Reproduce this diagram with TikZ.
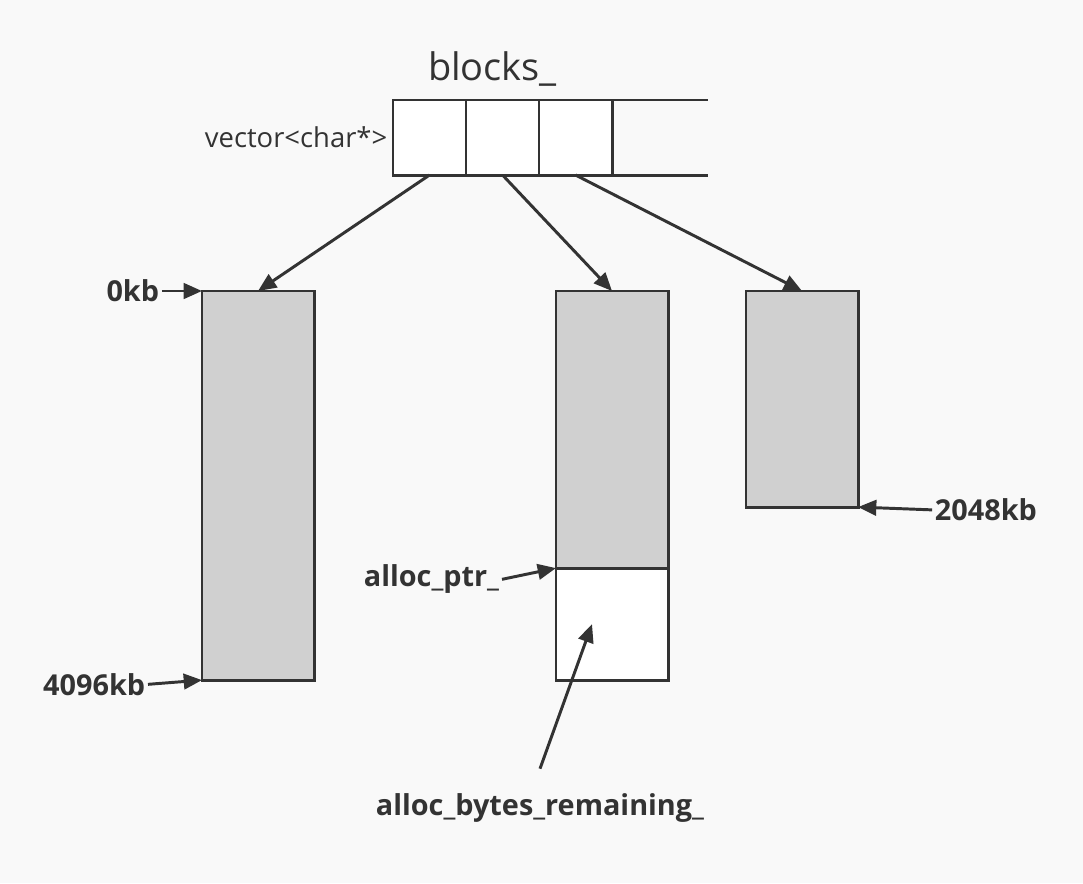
\documentclass[tikz,border=0pt]{standalone}
\usepackage{fontspec}
\setmainfont{Open Sans}
\usetikzlibrary{arrows.meta,positioning}
\definecolor{inkgrey}{RGB}{51,51,51}
\definecolor{memgrey}{RGB}{208,208,208}
\definecolor{paper}{RGB}{249,249,249}

\begin{document}
\begin{tikzpicture}[x=0.025cm, y=-0.025cm, line width=2.1pt, color=inkgrey,
  cell/.style={draw, fill=white, inner sep=0pt, outer sep=0pt, anchor=north west,
               minimum width=1.825cm, minimum height=1.875cm},
  mem/.style={draw, fill=memgrey, inner sep=0pt, outer sep=0pt, anchor=north west,
              minimum width=2.8cm},
  kb/.style={inner sep=1pt, font=\bfseries\fontsize{20.5}{24}\selectfont},
  ar/.style={-{Triangle[length=13pt,width=11pt]}}]

% page
\fill[paper] (0,0) rectangle (1083,883);

% the vector of block pointers
\node[cell] (c1) at (393,100) {};
\node[cell] (c2) at (466,100) {};
\node[cell] (c3) at (539,100) {};
\draw (c3.north east) -- ++(96,0);
\draw (c3.south east) -- ++(96,0);
\node[above=9pt of c2, xshift=-0.25cm, inner sep=0pt,
      font=\fontsize{27}{32}\selectfont] (title) {blocks\_};
\node[left=3pt of c1, inner sep=0pt, font=\fontsize{19.5}{23}\selectfont] (vt) {vector<char*>};

% the blocks
\node[mem, minimum height=9.725cm] (b1) at (202,291) {};
\node[mem, minimum height=6.925cm] (b2) at (556,291) {};
\node[mem, fill=white, minimum height=2.8cm, below=0pt of b2] (free) {};
\node[mem, minimum height=5.4cm] (b3) at (746,291) {};

\foreach \a/\b in {c1/b1, c2/b2, c3/b3}
  \draw[ar] (\a.south) -- (\b.north);

% labels
\node[kb, left=1cm of b1.north west] (k0) {0kb};
\node[kb, left=1.35cm of b1.south west, yshift=-3pt] (k4096) {4096kb};
\node[kb, left=1.35cm of b2.south west, yshift=-8pt] (ptr) {alloc\_ptr\_};
\node[kb, right=1.85cm of b3.south east, yshift=-2pt] (k2048) {2048kb};
\node[kb] (rem) at (540,808) {alloc\_bytes\_remaining\_};

\draw[ar] (k0.east) -- (b1.north west);
\draw[ar] (k4096.east) -- (b1.south west);
\draw[ar] (ptr.east) -- (b2.south west);
\draw[ar] (k2048.west) -- (b3.south east);
\draw[ar] ([yshift=0.55cm]rem.north) -- ([xshift=-0.5cm]free.center);
\end{tikzpicture}
\end{document}
